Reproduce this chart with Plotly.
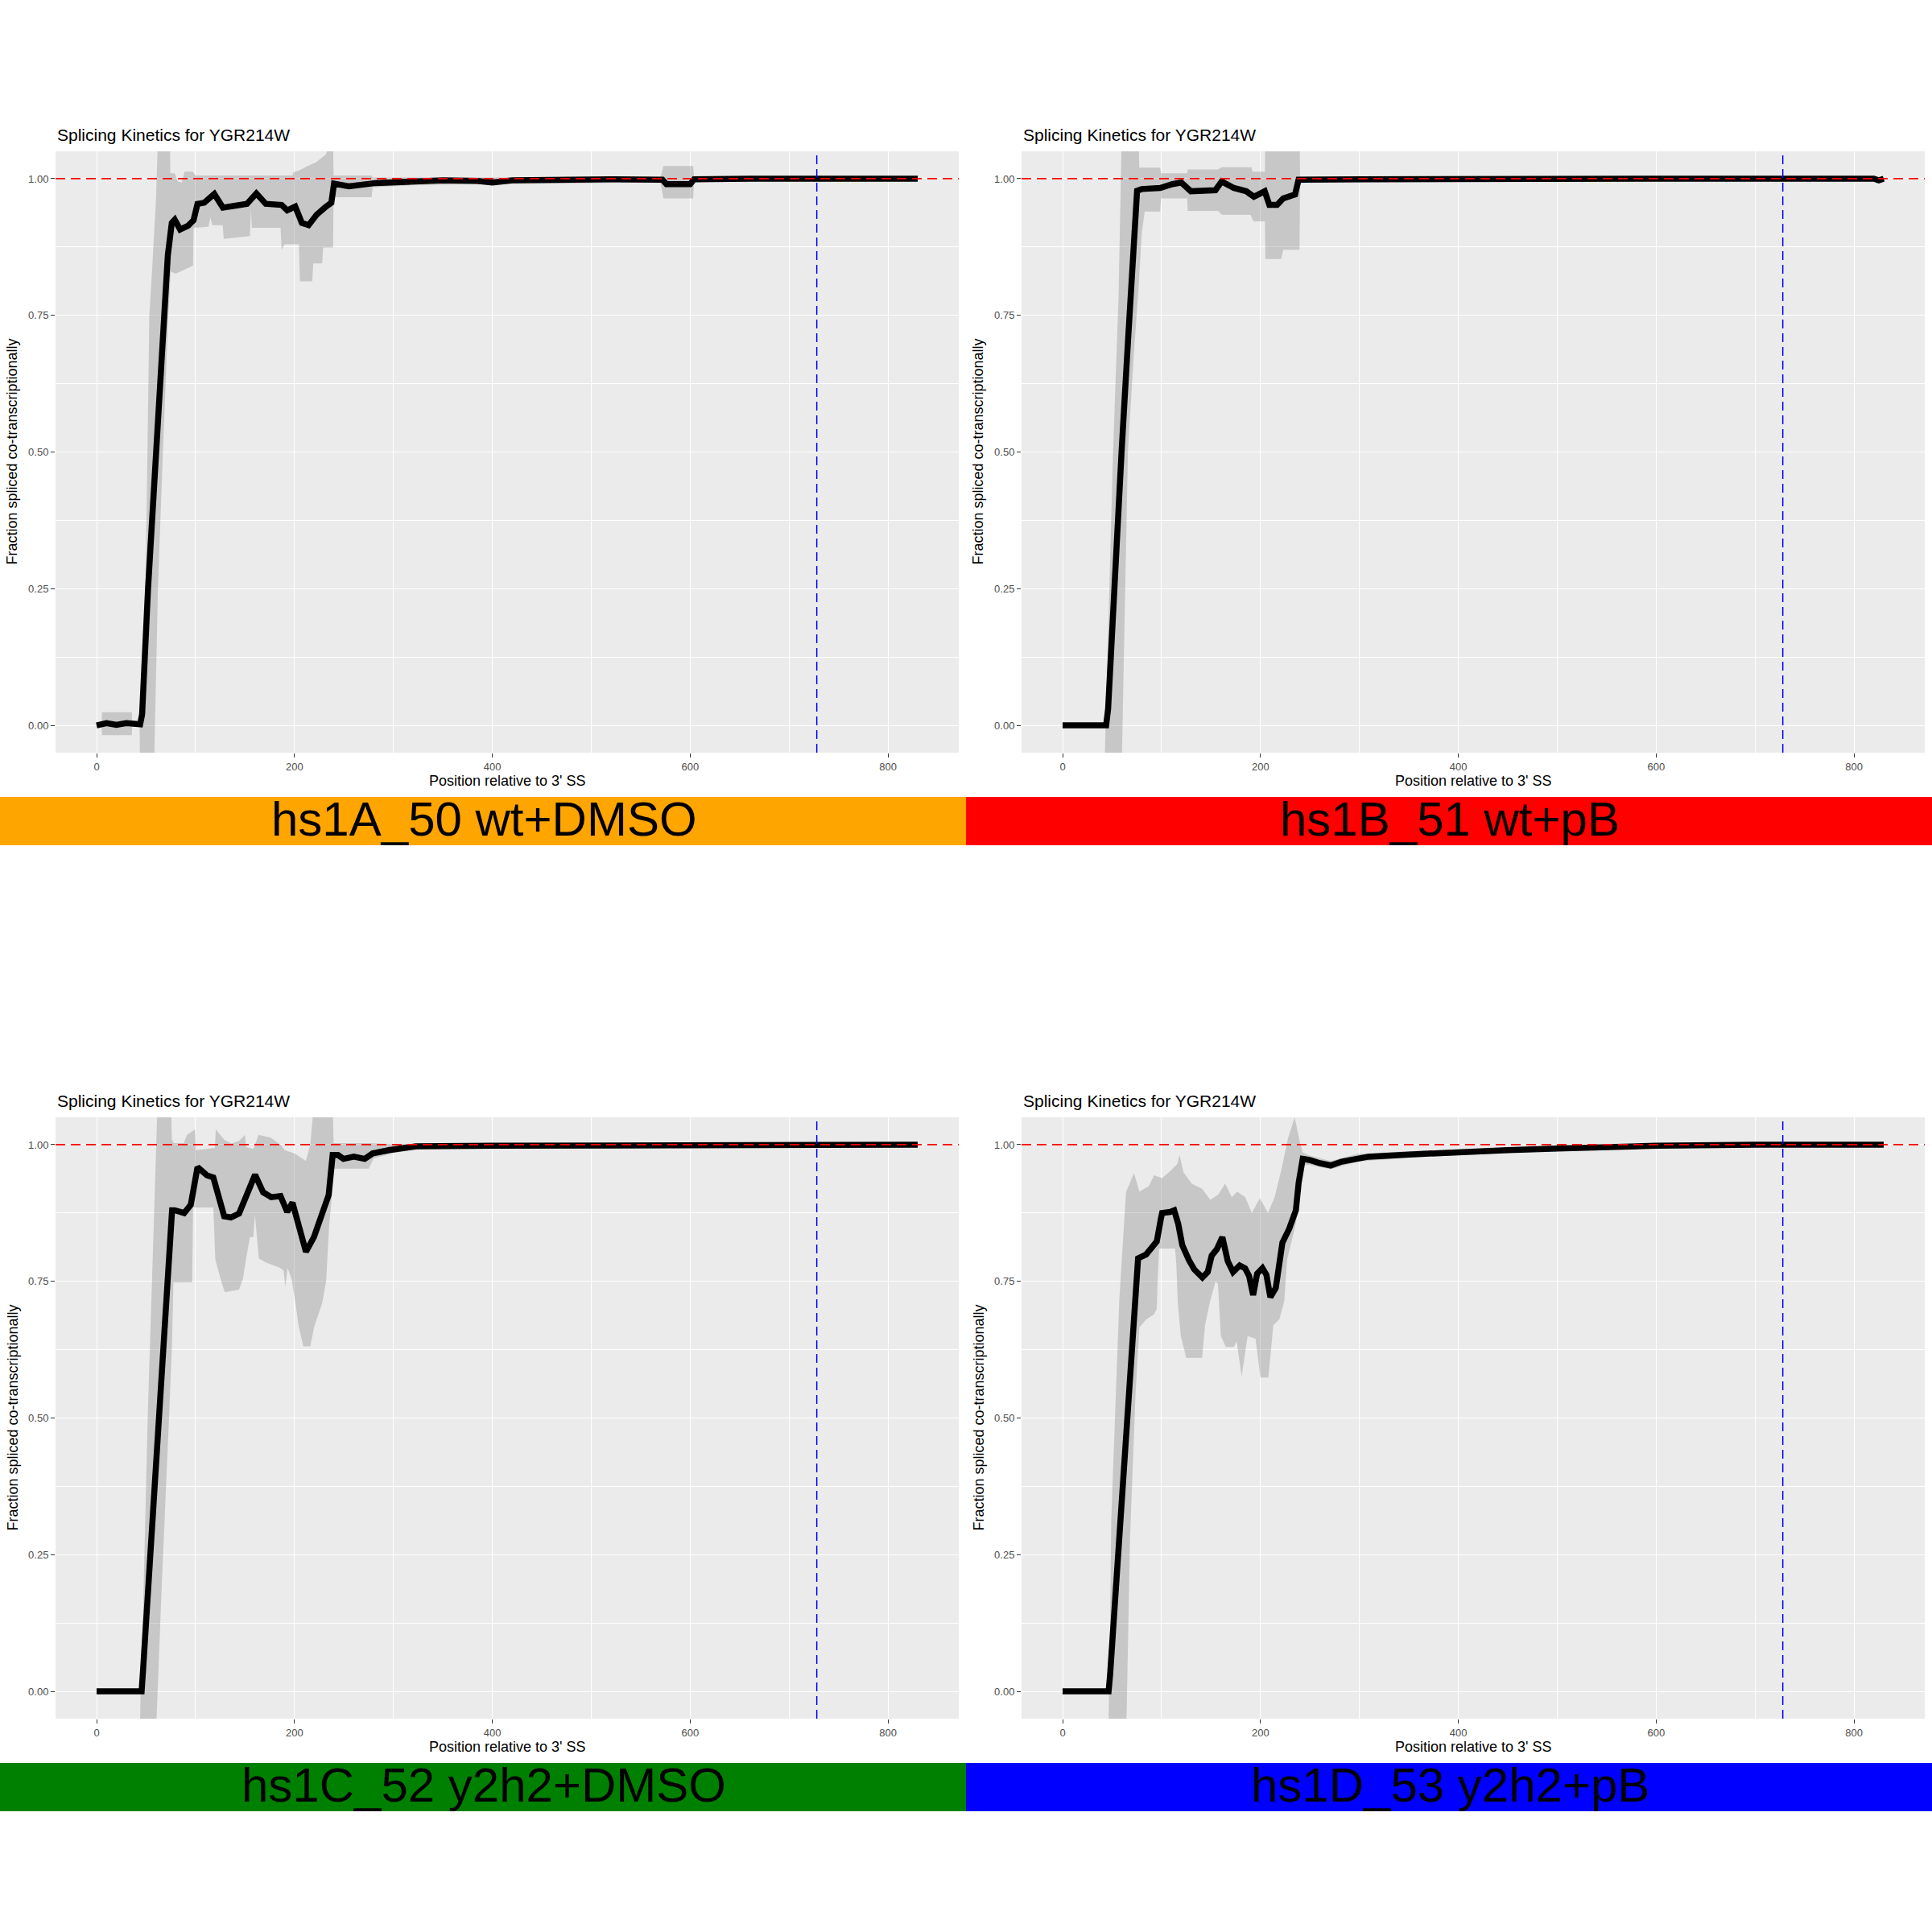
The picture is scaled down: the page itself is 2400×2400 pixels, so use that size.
import plotly.graph_objects as go

# ---------------- data ----------------
SAMPLE_LABELS = ["hs1A_50 wt+DMSO", "hs1B_51 wt+pB", "hs1C_52 y2h2+DMSO", "hs1D_53 y2h2+pB"]
SAMPLE_COLORS = ["#FFA500", "#FF0000", "#008000", "#0000FF"]
PLOT_TITLE = "Splicing Kinetics for YGR214W"
X_TITLE = "Position relative to 3' SS"
Y_TITLE = "Fraction spliced co-transcriptionally"
X_TICKS = [0, 200, 400, 600, 800]
Y_TICKS = [0.0, 0.25, 0.5, 0.75, 1.0]
REF_LEVEL = 1.0
VLINE_POS = 728

# Panel A
A_mean_x = [0, 10, 20, 30, 44, 46, 52, 59.6, 65.4, 72, 76, 79, 84.4, 92.5, 98, 102, 108.8, 116.8, 119, 127.7,
            138.5, 152, 161.5, 171, 187, 192.7, 200.8, 207.5, 214.3, 222.4, 231.9, 237.3, 240, 249.5, 255, 282,
            309, 350, 385, 400, 420, 460, 520, 572, 576, 600, 604, 660, 830]
A_mean_y = [0.0, 0.004, 0.001, 0.004, 0.002, 0.02, 0.25, 0.5, 0.679, 0.86, 0.919, 0.925, 0.907, 0.914, 0.924,
            0.954, 0.956, 0.969, 0.972, 0.947, 0.949, 0.954, 0.973, 0.954, 0.952, 0.942, 0.949, 0.919, 0.915,
            0.934, 0.949, 0.956, 0.991, 0.989, 0.986, 0.992, 0.994, 0.997, 0.996, 0.993, 0.997, 0.998, 0.999,
            0.998, 0.99, 0.99, 0.999, 1.0, 1.0]
A_hi_x = [5, 5.5, 35.5, 36, 43.5, 46, 49.5, 51.5, 53.3, 56, 60, 62.5, 74, 74.5, 79, 82, 86, 89, 97, 100, 198,
          199, 205, 212, 222, 232, 236, 239, 239.5, 278, 279, 570, 573, 603, 604, 830]
A_hi_y = [0.002, 0.024, 0.024, 0.003, 0.003, 0.06, 0.25, 0.5, 0.75, 0.83, 0.96, 1.1, 1.1, 1.01, 1.01, 0.995,
          0.993, 1.013, 1.013, 1.006, 1.006, 1.012, 1.015, 1.022, 1.03, 1.045, 1.07, 1.07, 1.006, 1.006, 1.002,
          1.002, 1.023, 1.023, 1.002, 1.002]
A_lo_x = [5, 5.5, 35.5, 36, 43.5, 44, 57.8, 62, 67, 72.5, 75, 80, 97.5, 98, 113, 115, 117, 127.5, 128.5, 155,
          156, 157, 186, 187, 190, 204.5, 205.5, 218, 219, 228, 229, 239, 239.5, 278, 279, 320, 400, 570, 573,
          603, 604, 830]
A_lo_y = [0.002, -0.018, -0.018, 0.001, 0.001, -0.1, -0.1, 0.25, 0.5, 0.75, 0.83, 0.826, 0.841, 0.91, 0.912,
          0.929, 0.915, 0.915, 0.89, 0.895, 0.945, 0.91, 0.91, 0.87, 0.88, 0.88, 0.812, 0.812, 0.845, 0.845,
          0.874, 0.874, 0.966, 0.966, 0.984, 0.988, 0.99, 0.993, 0.964, 0.964, 0.995, 0.995]

# Panel B
B_mean_x = [0, 44, 46, 52, 59.6, 66, 69, 72, 75.3, 79.9, 88, 98.6, 111, 120, 129.6, 154.5, 160.8, 173, 185.6,
            193.4, 204.3, 209, 216.8, 223, 235, 238.5, 300, 400, 500, 600, 700, 820, 825, 830]
B_mean_y = [0.0, 0.0, 0.03, 0.25, 0.5, 0.70, 0.78, 0.90, 0.978, 0.981, 0.982, 0.983, 0.99, 0.993, 0.977,
            0.979, 0.995, 0.983, 0.977, 0.967, 0.977, 0.952, 0.952, 0.964, 0.971, 0.998, 0.999, 1.0, 0.999,
            1.0, 1.0, 1.0, 0.997, 1.0]
B_hi_x = [42, 45, 48, 51, 56.5, 58.5, 60, 76.5, 77.5, 98.6, 99.5, 126, 126.5, 157, 161, 191, 192, 204.5, 205,
          239.5, 240, 830]
B_hi_y = [-0.1, 0.1, 0.3, 0.5, 0.78, 0.95, 1.1, 1.1, 1.02, 1.02, 1.01, 1.01, 1.017, 1.017, 1.021, 1.021,
          1.013, 1.013, 1.1, 1.1, 1.004, 1.003]
B_lo_x = [42, 59.5, 66, 72, 76.8, 80, 83, 98.6, 99.5, 126, 126.5, 157, 161, 190, 193, 204.5, 205, 221, 223,
          239.5, 240, 830]
B_lo_y = [-0.1, -0.1, 0.5, 0.68, 0.80, 0.9, 0.94, 0.94, 0.964, 0.964, 0.941, 0.941, 0.934, 0.934, 0.922,
          0.922, 0.853, 0.853, 0.87, 0.87, 0.993, 0.996]

# Panel C
C_mean_x = [0, 45.5, 47, 55, 62.8, 68.1, 75, 76.3, 79, 88.5, 95.2, 102, 111.5, 118, 129, 135.8, 144, 150.7,
            160.2, 168.3, 176.5, 185.9, 192.7, 198, 202, 211.6, 219.7, 227.8, 234.6, 238.6, 244, 249.5, 260,
            271, 279, 295.5, 322.6, 400, 500, 830]
C_mean_y = [0.0, 0.0, 0.04, 0.28, 0.517, 0.664, 0.875, 0.88, 0.88, 0.875, 0.89, 0.959, 0.944, 0.94, 0.869,
            0.867, 0.874, 0.904, 0.945, 0.913, 0.904, 0.906, 0.877, 0.894, 0.865, 0.804, 0.831, 0.869, 0.908,
            0.981, 0.981, 0.974, 0.978, 0.974, 0.984, 0.99, 0.997, 0.998, 0.999, 1.0]
C_hi_x = [43.5, 44.5, 47, 51.9, 56, 60, 62, 75, 76, 78, 88, 91.4, 99.5, 100.5, 119.6, 120.5, 129, 136, 144,
          150, 151, 158.6, 163.7, 176, 186.7, 190, 200, 211.6, 216, 221, 238.5, 239.5, 275, 300, 830]
C_hi_y = [-0.1, 0.0, 0.15, 0.517, 0.75, 0.959, 1.1, 1.1, 1.01, 1.003, 1.003, 1.018, 1.028, 0.99, 0.994,
          1.028, 1.009, 1.002, 1.007, 1.018, 0.996, 0.992, 1.018, 1.013, 0.999, 0.99, 0.984, 0.97, 1.0, 1.1,
          1.1, 1.003, 1.003, 1.001, 1.001]
C_lo_x = [43.5, 59.5, 66, 73.6, 76.3, 77.6, 96.6, 97.5, 118, 120, 126, 129.6, 144, 148, 150.7, 155, 158.5,
          160, 161.5, 164, 170.6, 185, 189, 190.8, 193, 197, 201, 204, 209, 216, 220, 228, 232, 235, 237.5,
          238.5, 275, 280, 300, 330, 400, 830]
C_lo_y = [-0.1, -0.1, 0.2, 0.517, 0.64, 0.748, 0.748, 0.885, 0.885, 0.79, 0.75, 0.73, 0.735, 0.755, 0.787,
          0.831, 0.831, 0.873, 0.85, 0.792, 0.785, 0.775, 0.77, 0.74, 0.775, 0.755, 0.711, 0.67, 0.631, 0.631,
          0.667, 0.71, 0.75, 0.85, 0.9, 0.956, 0.956, 0.975, 0.985, 0.993, 0.996, 0.998]

# Panel D
D_mean_x = [0, 46.5, 48, 55, 62.8, 70, 76.3, 84.4, 89.8, 95.2, 99.3, 100.6, 108.8, 112.8, 116.9, 121, 127.7,
            133, 141.3, 146.7, 150.7, 156, 161.5, 166.9, 172.3, 179, 184.5, 188.5, 192.6, 196.6, 202, 206, 210,
            215.5, 222.2, 229, 235.8, 238.6, 242.7, 249.5, 260.3, 271, 282, 298, 309, 350, 400, 450, 500, 550,
            600, 700, 830]
D_mean_y = [0.0, 0.0, 0.03, 0.22, 0.46, 0.65, 0.792, 0.799, 0.811, 0.823, 0.864, 0.875, 0.877, 0.88, 0.855,
            0.816, 0.789, 0.772, 0.757, 0.767, 0.797, 0.809, 0.831, 0.787, 0.767, 0.779, 0.774, 0.76, 0.725,
            0.764, 0.774, 0.762, 0.721, 0.738, 0.821, 0.846, 0.88, 0.93, 0.974, 0.972, 0.966, 0.962, 0.969,
            0.976, 0.978, 0.982, 0.987, 0.99, 0.993, 0.996, 0.998, 1.0, 1.0]
D_hi_x = [46, 47.5, 49.2, 54.6, 57.3, 64.1, 72.2, 77.6, 87.1, 92.5, 100.6, 110.1, 116, 118.2, 122.3, 130.4,
          141.2, 149.3, 157.5, 164.3, 171, 176.4, 184.6, 191.3, 199.4, 207.6, 214.3, 221.1, 227.9, 234.6, 240,
          242.7, 249.5, 271, 298, 350, 450, 550, 830]
D_hi_y = [-0.1, 0.05, 0.314, 0.582, 0.716, 0.913, 0.948, 0.914, 0.924, 0.944, 0.939, 0.954, 0.965, 0.981,
          0.949, 0.929, 0.919, 0.899, 0.909, 0.929, 0.904, 0.914, 0.904, 0.875, 0.902, 0.875, 0.904, 0.954,
          1.012, 1.05, 1.003, 0.986, 0.98, 0.97, 0.983, 0.988, 0.995, 1.0, 1.002]
D_lo_x = [46, 64.1, 68.1, 73.6, 77.6, 84.4, 92.5, 95.2, 96, 97.5, 113.7, 115, 116.5, 119.5, 125, 141, 144,
          149, 154.6, 157, 160, 165, 173, 176, 181, 187, 195, 200, 208, 213, 219, 224, 227, 235, 238, 242,
          249.5, 271, 298, 350, 450, 550, 830]
D_lo_y = [-0.1, -0.1, 0.277, 0.54, 0.666, 0.68, 0.69, 0.70, 0.748, 0.81, 0.81, 0.78, 0.71, 0.65, 0.61, 0.61,
          0.67, 0.713, 0.75, 0.745, 0.65, 0.63, 0.63, 0.64, 0.576, 0.65, 0.645, 0.574, 0.574, 0.67, 0.68,
          0.713, 0.79, 0.85, 0.88, 0.962, 0.963, 0.955, 0.969, 0.976, 0.985, 0.992, 0.998]

PANELS = [
    (A_mean_x, A_mean_y, A_hi_x, A_hi_y, A_lo_x, A_lo_y),
    (B_mean_x, B_mean_y, B_hi_x, B_hi_y, B_lo_x, B_lo_y),
    (C_mean_x, C_mean_y, C_hi_x, C_hi_y, C_lo_x, C_lo_y),
    (D_mean_x, D_mean_y, D_hi_x, D_hi_y, D_lo_x, D_lo_y),
]

# ---------------- layout geometry (pixels) ----------------
W = H = 2400
CELL = 1200
PL, PR, PT, PB = 69, 1191, 188, 935  # plot area inside a cell
FONT = "Liberation Sans, Arial, Helvetica, sans-serif"
RIBBON = "rgba(115,115,115,0.30)"

fig = go.Figure()
layout_axes = {}
shapes = []
annotations = []

for i, (mx, my, hx, hy, lx, ly) in enumerate(PANELS):
    n = i + 1
    col, row = i % 2, i // 2
    ox, oy = col * CELL, row * CELL
    xa = "x" if n == 1 else f"x{n}"
    ya = "y" if n == 1 else f"y{n}"
    xkey = "xaxis" if n == 1 else f"xaxis{n}"
    ykey = "yaxis" if n == 1 else f"yaxis{n}"

    fig.add_trace(go.Scatter(
        x=list(hx) + list(lx)[::-1], y=list(hy) + list(ly)[::-1],
        fill="toself", fillcolor=RIBBON, mode="lines", line=dict(width=0, color=RIBBON),
        hoverinfo="skip", xaxis=xa, yaxis=ya, showlegend=False))
    fig.add_trace(go.Scatter(
        x=mx, y=my, mode="lines", line=dict(color="black", width=7.5),
        xaxis=xa, yaxis=ya, showlegend=False))

    layout_axes[xkey] = dict(
        domain=[(ox + PL) / W, (ox + PR) / W], anchor=ya, range=[-41.5, 871.5],
        tickmode="array", tickvals=X_TICKS, ticktext=[str(v) for v in X_TICKS],
        showgrid=True, gridcolor="white", gridwidth=1.3,
        minor=dict(dtick=100, tick0=0, showgrid=True, gridcolor="white", gridwidth=0.6),
        zeroline=False, showline=False, ticks="outside", ticklen=5, tickwidth=1.1,
        tickcolor="#333333", tickfont=dict(size=13, color="#4D4D4D", family=FONT))
    layout_axes[ykey] = dict(
        domain=[1 - (oy + PB) / H, 1 - (oy + PT) / H], anchor=xa, range=[-0.05, 1.05],
        tickmode="array", tickvals=Y_TICKS, ticktext=[f"{v:.2f}" for v in Y_TICKS],
        showgrid=True, gridcolor="white", gridwidth=1.3,
        minor=dict(dtick=0.125, tick0=0, showgrid=True, gridcolor="white", gridwidth=0.6),
        zeroline=False, showline=False, ticks="outside", ticklen=5, tickwidth=1.1,
        tickcolor="#333333", tickfont=dict(size=13, color="#4D4D4D", family=FONT))

    # reference lines
    shapes.append(dict(type="line", xref=f"{xa} domain", yref=ya, x0=0, x1=1, y0=REF_LEVEL, y1=REF_LEVEL,
                       line=dict(color="#FF0000", width=1.8, dash="12px,7px"), layer="above"))
    shapes.append(dict(type="line", xref=xa, yref=f"{ya} domain", x0=VLINE_POS, x1=VLINE_POS, y0=0, y1=1,
                       line=dict(color="#0000FF", width=1.5, dash="11px,6px"), layer="above"))
    # colored banner
    shapes.append(dict(type="rect", xref="paper", yref="paper", x0=ox / W, x1=(ox + CELL) / W,
                       y0=1 - (oy + 1050) / H, y1=1 - (oy + 990) / H,
                       fillcolor=SAMPLE_COLORS[i], line=dict(width=0), layer="below"))

    annotations.append(dict(text=PLOT_TITLE, xref="paper", yref="paper", x=(ox + PL) / W, y=1 - (oy + 167) / H,
                            xanchor="left", yanchor="middle", showarrow=False,
                            font=dict(size=21, color="black", family=FONT)))
    annotations.append(dict(text=Y_TITLE, xref="paper", yref="paper", x=(ox + 15) / W,
                            y=1 - (oy + (PT + PB) / 2) / H, textangle=-90, xanchor="center", yanchor="middle",
                            showarrow=False, font=dict(size=18, color="black", family=FONT)))
    annotations.append(dict(text=X_TITLE, xref="paper", yref="paper", x=(ox + (PL + PR) / 2) / W,
                            y=1 - (oy + 970) / H, xanchor="center", yanchor="middle", showarrow=False,
                            font=dict(size=18, color="black", family=FONT)))
    annotations.append(dict(text=SAMPLE_LABELS[i], xref="paper", yref="paper", x=(ox + 601) / W,
                            y=1 - (oy + 1017) / H, xanchor="center", yanchor="middle", showarrow=False,
                            font=dict(size=60, color="black", family=FONT)))

fig.update_layout(
    width=W, height=H, margin=dict(l=0, r=0, t=0, b=0),
    paper_bgcolor="white", plot_bgcolor="#EBEBEB", showlegend=False,
    shapes=shapes, annotations=annotations, font=dict(family=FONT),
    **layout_axes)

fig.write_html("out.html", config={"displayModeBar": False},
               post_script="document.body.style.margin='0';")
